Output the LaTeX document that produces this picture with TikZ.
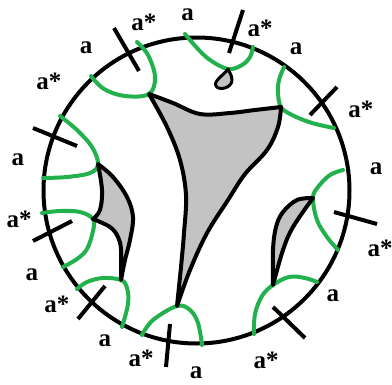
\documentclass[tikz,border=0pt]{standalone}
\usepackage{fontspec}
\setmainfont{Liberation Serif}
\definecolor{cutGreen}{HTML}{22B14C}
\definecolor{faceGrey}{HTML}{C3C3C3}
\tikzset{
  boundary/.style={draw=black, line width=4pt},
  cutarc/.style={draw=cutGreen, line width=4pt, line cap=round},
  crossmark/.style={draw=black, line width=4pt},
  face/.style={draw=black, fill=faceGrey, line width=4pt, line join=round},
  lbl/.style={font=\bfseries\fontsize{25}{25}\selectfont, inner sep=0pt,
    text height=11.5pt, text depth=0pt},
}

\begin{document}
\begin{tikzpicture}[x=1pt, y=-1pt]

  \useasboundingbox (0,0) rectangle (392,384);

  % === Disc ===
  \coordinate (O) at (196.5,190.5);
  \draw[boundary] (O) circle[radius=153];

  % === Vertices where faces touch the arcs ===
  \coordinate (v1) at (149,94);
  \coordinate (v2) at (281,107);
  \coordinate (v3) at (177,306);
  \coordinate (v4) at (98,164);
  \coordinate (v5) at (93,219);
  \coordinate (v6) at (121,280);
  \coordinate (v7) at (313,198);
  \coordinate (v8) at (273,285);
  \coordinate (v9) at (228,69);

  % === Green arcs ===
  \draw[cutarc] plot[smooth, tension=0.6] coordinates {(91,76) (104,89) (125,96) (v1) (155,77) (148,55) (137,42)};
  \draw[cutarc] plot[smooth, tension=0.6] coordinates {(60,116) (77,130) (92,147) (v4) (90,173) (67,177) (43,178)};
  \draw[cutarc] plot[smooth, tension=0.6] coordinates {(42,213) (60,211) (80,212) (v5) (93,231) (87,249) (77,259) (63,267)};
  \draw[cutarc] plot[smooth, tension=0.6] coordinates {(77,289) (87,282) (103,278) (v6) (127,288) (128,304) (122,327)};
  \draw[cutarc] plot[smooth, tension=0.6] coordinates {(142,335) (153,320) (v3) (190,310) (198,323) (202,345)};
  \draw[cutarc] plot[smooth, tension=0.6] coordinates {(254,334) (255,314) (262,296) (v8) (289,277) (305,278) (317,282)};
  \draw[cutarc] plot[smooth, tension=0.6] coordinates {(343,170) (330,175) (318,187) (v7) (317,220) (327,237) (338,250)};
  \draw[cutarc] plot[smooth, tension=0.6] coordinates {(284,67) (279,80) (278,93) (v2) (292,115) (312,123) (334,128)};
  \draw[cutarc] plot[smooth, tension=0.6] coordinates {(185,34) (197,48) (210,60) (v9) (242,65) (250,57) (253,47)};

  % === Grey faces ===
  \filldraw[face] plot[smooth, tension=0.6] coordinates {(v1) (167,127) (180,160) (186,195) (184,233) (181,267) (v3)}
    -- plot[smooth, tension=0.6] coordinates {(v3) (190,270) (207,233) (228,200) (245,174) (267,150) (278,127) (v2)}
    -- plot[smooth, tension=0.6] coordinates {(v2) (255,110) (230,113) (200,114) (173,103) (v1)} -- cycle;

  \filldraw[face] plot[smooth, tension=0.6] coordinates {(v4) (113,177) (127,197) (133,217) (130,240) (125,260) (v6)}
    -- plot[smooth, tension=0.6] coordinates {(v6) (121,250) (118,237) (110,227) (v5)}
    -- plot[smooth, tension=0.6] coordinates {(v5) (100,210) (102,190) (v4)} -- cycle;

  \filldraw[face] plot[smooth, tension=0.6] coordinates {(v7) (297,200) (283,212) (276,227) (273,250) (v8)}
    -- plot[smooth, tension=0.6] coordinates {(v8) (283,250) (293,227) (v7)} -- cycle;

  \filldraw[face, line width=3pt] (v9) .. controls (224,75) and (213,81) .. (216,86)
    .. controls (219,91) and (232,88) .. (232,80) .. controls (232,75) and (229,72) .. (v9) -- cycle;

  % === Cross marks ===
  \draw[crossmark] (114,28) -- (139,71);
  \draw[crossmark] (33,128) -- (77,146);
  \draw[crossmark] (33,241) -- (72,221);
  \draw[crossmark] (78,319) -- (105,286);
  \draw[crossmark] (166,367) -- (170,324);
  \draw[crossmark] (305,338) -- (273,307);
  \draw[crossmark] (334,212) -- (377,224);
  \draw[crossmark] (337,87) -- (310,115);
  \draw[crossmark] (243,10) -- (229,53);

  % === Labels ===
  \node[lbl] (l1) at (187.5,15) {a};
  \node[lbl] (l2) at (144,25) {a*};
  \node[lbl] (l3) at (86,48) {a};
  \node[lbl] (l4) at (49,84) {a*};
  \node[lbl] (l5) at (18,160) {a};
  \node[lbl] (l6) at (19,222) {a*};
  \node[lbl] (l7) at (32,275) {a};
  \node[lbl] (l8) at (57,307) {a*};
  \node[lbl] (l9) at (105,341) {a};
  \node[lbl] (l10) at (141,361) {a*};
  \node[lbl] (l11) at (196,373) {a};
  \node[lbl] (l12) at (266,363) {a*};
  \node[lbl] (l13) at (333,296) {a};
  \node[lbl] (l14) at (380,251) {a*};
  \node[lbl] (l15) at (376,169) {a};
  \node[lbl] (l16) at (361,112) {a*};
  \node[lbl] (l17) at (296,49) {a};
  \node[lbl] (l18) at (260,31) {a*};

\end{tikzpicture}
\end{document}
